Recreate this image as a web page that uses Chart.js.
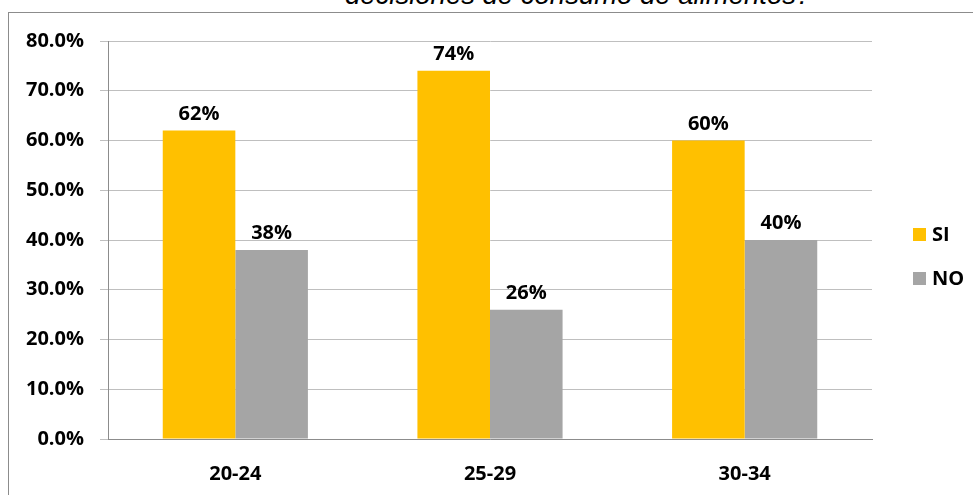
<!DOCTYPE html>
<html>
<head>
<meta charset="utf-8">
<script src="https://cdn.jsdelivr.net/npm/chart.js@4"></script>
<style>
  body { margin: 0; background: #fff; }
  #wrap { position: relative; width: 973px; height: 495px; overflow: hidden; }
  #frame {
    position: absolute; left: 8px; top: 12px; width: 1000px; height: 520px;
    border-left: 1px solid #8c8c8c; border-top: 1px solid #8c8c8c;
  }
  #title {
    position: absolute; left: 345px; top: -21px; white-space: nowrap;
    font: italic 27.5px "Liberation Sans", Arial, sans-serif; color: #000;
  }
  #chart { position: absolute; left: 0; top: 0; }
</style>
</head>
<body>
<div id="wrap">
  <div id="title">decisiones de consumo de alimentos?</div>
  <div id="frame"></div>
  <canvas id="chart" width="973" height="495"></canvas>
</div>
<script>
const ageGroups = ['20-24', '25-29', '30-34'];
const siValues = [62, 74, 60];
const noValues = [38, 26, 40];
const yTicks = [0, 10, 20, 30, 40, 50, 60, 70, 80];

const boldFont = '"Open Sans", sans-serif';

// percent labels above each bar
const barLabels = {
    id: 'barLabels',
    afterDatasetsDraw(chart) {
        const ctx = chart.ctx;
        ctx.save();
        ctx.font = 'bold 20px ' + boldFont;
        ctx.fillStyle = '#000';
        ctx.textAlign = 'center';
        ctx.textBaseline = 'alphabetic';
        chart.data.datasets.forEach((ds, i) => {
            chart.getDatasetMeta(i).data.forEach((bar, j) => {
                ctx.fillText(ds.data[j] + '%', bar.x, bar.y - 11);
            });
        });
        ctx.restore();
    }
};

// legend drawn to the right of the plot
const sideLegend = {
    id: 'sideLegend',
    afterDraw(chart) {
        const ctx = chart.ctx;
        const area = chart.chartArea;
        ctx.save();
        ctx.font = 'bold 20px ' + boldFont;
        ctx.textBaseline = 'middle';
        chart.data.datasets.forEach((ds, i) => {
            const cy = area.top + 193 + i * 44;
            const x = area.right + 41;
            ctx.fillStyle = ds.backgroundColor;
            ctx.fillRect(x, cy - 6, 13, 13);
            ctx.fillStyle = '#000';
            ctx.fillText(ds.label, x + 19, cy + 1);
        });
        ctx.restore();
    }
};

new Chart(document.getElementById('chart'), {
    type: 'bar',
    data: {
        labels: ageGroups,
        datasets: [
            { label: 'SI', data: siValues, backgroundColor: '#FFC000' },
            { label: 'NO', data: noValues, backgroundColor: '#A5A5A5' },
        ],
    },
    options: {
        responsive: false,
        animation: false,
        layout: { padding: { top: 41, right: 101, left: 0, bottom: 0 } },
        datasets: { bar: { categoryPercentage: 0.57, barPercentage: 1.0 } },
        plugins: { legend: { display: false }, tooltip: { enabled: false } },
        scales: {
            x: {
                grid: { display: false },
                border: { display: true, color: '#8c8c8c', width: 1 },
                ticks: { color: '#000', font: { family: boldFont, size: 20, weight: 'bold' }, padding: 15 },
                afterFit(scale) { scale.height = 56; },
            },
            y: {
                min: 0,
                max: 80,
                afterBuildTicks(scale) { scale.ticks = yTicks.map(v => ({ value: v })); },
                grid: { color: '#bfbfbf', lineWidth: 1, tickLength: 8 },
                border: { display: true, color: '#8c8c8c', width: 1 },
                ticks: {
                    color: '#000',
                    font: { family: boldFont, size: 20, weight: 'bold' },
                    padding: 16,
                    callback: v => v.toFixed(1) + '%',
                },
                afterFit(scale) { scale.width = 108; },
            },
        },
    },
    plugins: [barLabels, sideLegend],
});
</script>
</body>
</html>
